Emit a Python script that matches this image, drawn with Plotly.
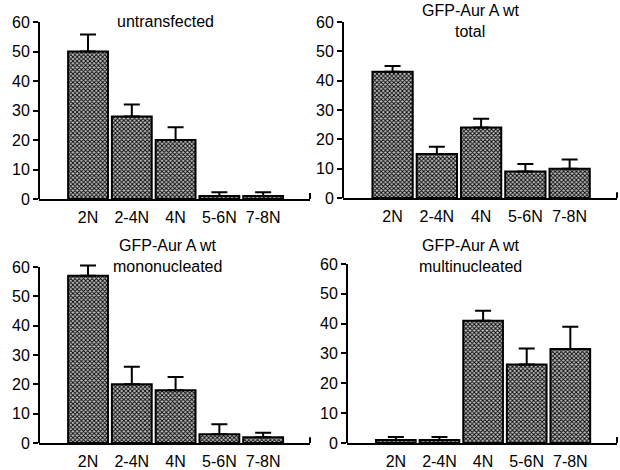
import plotly.graph_objects as go

categories = ["2N", "2-4N", "4N", "5-6N", "7-8N"]

untransfected = [50, 28, 20, 1, 1]
untransfected_err = [5.8, 4, 4.3, 1.3, 1.3]

total = [43, 15, 24, 9, 10]
total_err = [2, 2.5, 3, 2.6, 3.1]

mononucleated = [57, 20, 18, 3, 2]
mononucleated_err = [3.5, 6, 4.5, 3.4, 1.5]

multinucleated = [1, 1, 41, 26.3, 31.5]
multinucleated_err = [1, 1, 3.3, 5.4, 7.5]

y_ticks = [0, 10, 20, 30, 40, 50, 60]

W, H = 620, 470
YMAX = 64

panels = [
    (untransfected, untransfected_err, (39, 310), (22, 199), ["untransfected"], [22], [165]),
    (total, total_err, (343, 617), (22, 198), ["GFP-Aur A wt", "total"], [10, 32], [470, 470]),
    (mononucleated, mononucleated_err, (39, 310), (267, 443), ["GFP-Aur A wt", "mononucleated"], [245, 266], [167, 167]),
    (multinucleated, multinucleated_err, (347, 617), (264, 443), ["GFP-Aur A wt", "multinucleated"], [245, 266], [470, 470]),
]

fig = go.Figure()
annotations = []
shapes = []
font = dict(family="Liberation Sans, Arial, sans-serif", size=16, color="black")

for i, (vals, errs, (x0, x1), (ytop, ybot), titles, tys, txs) in enumerate(panels):
    n = "" if i == 0 else str(i + 1)
    px_per_unit = (ybot - ytop) / 60.0
    ytop_ext = ybot - YMAX * px_per_unit
    fig.add_trace(go.Bar(
        x=list(range(len(categories))), y=vals,
        xaxis="x" + n, yaxis="y" + n,
        width=0.91,
        marker=dict(
            color="#888888",
            line=dict(color="black", width=2),
            pattern=dict(shape="x", fgcolor="black", bgcolor="#c0c0c0", size=3, solidity=0.5),
        ),
        error_y=dict(type="data", array=errs, arrayminus=[0] * len(errs),
                     symmetric=False, color="black", thickness=2, width=8),
        showlegend=False,
        hoverinfo="skip",
    ))
    fig.layout["xaxis" + n] = dict(
        domain=[x0 / W, x1 / W], anchor="y" + n,
        range=[-1.12, 5.07], automargin=False,
        tickmode="array", tickvals=list(range(len(categories))), ticktext=categories,
        ticks="outside", ticklen=3, tickcolor="rgba(0,0,0,0)",
        showline=True, linecolor="black", linewidth=2,
        showgrid=False, zeroline=False, tickfont=font, fixedrange=True,
    )
    fig.layout["yaxis" + n] = dict(
        domain=[1 - ybot / H, 1 - ytop_ext / H], anchor="x" + n,
        range=[0, YMAX], automargin=False, tickmode="array", tickvals=y_ticks,
        ticks="outside", ticklen=5, tickwidth=2, tickcolor="black",
        showline=False,
        showgrid=False, zeroline=False, tickfont=font, fixedrange=True,
    )
    shapes.append(dict(type="line", xref="x" + n + " domain", yref="y" + n,
                       x0=0, x1=0, y0=0, y1=60, line=dict(color="black", width=2)))
    shapes.append(dict(type="line", xref="x" + n + " domain", yref="y" + n,
                       x0=1, x1=1, y0=0, y1=2, line=dict(color="black", width=2)))
    for t, ty, tx in zip(titles, tys, txs):
        annotations.append(dict(text=t, x=tx / W, y=1 - ty / H, xref="paper", yref="paper",
                                showarrow=False, font=font, xanchor="center", yanchor="middle"))

fig.update_layout(
    template="none",
    width=W, height=H,
    margin=dict(l=0, r=0, t=0, b=0),
    paper_bgcolor="white", plot_bgcolor="white",
    annotations=annotations, shapes=shapes,
    bargap=0.09,
    hovermode=False,
)

fig.write_html("out.html", config={"displayModeBar": False},
               post_script="document.body.style.margin='0';")
